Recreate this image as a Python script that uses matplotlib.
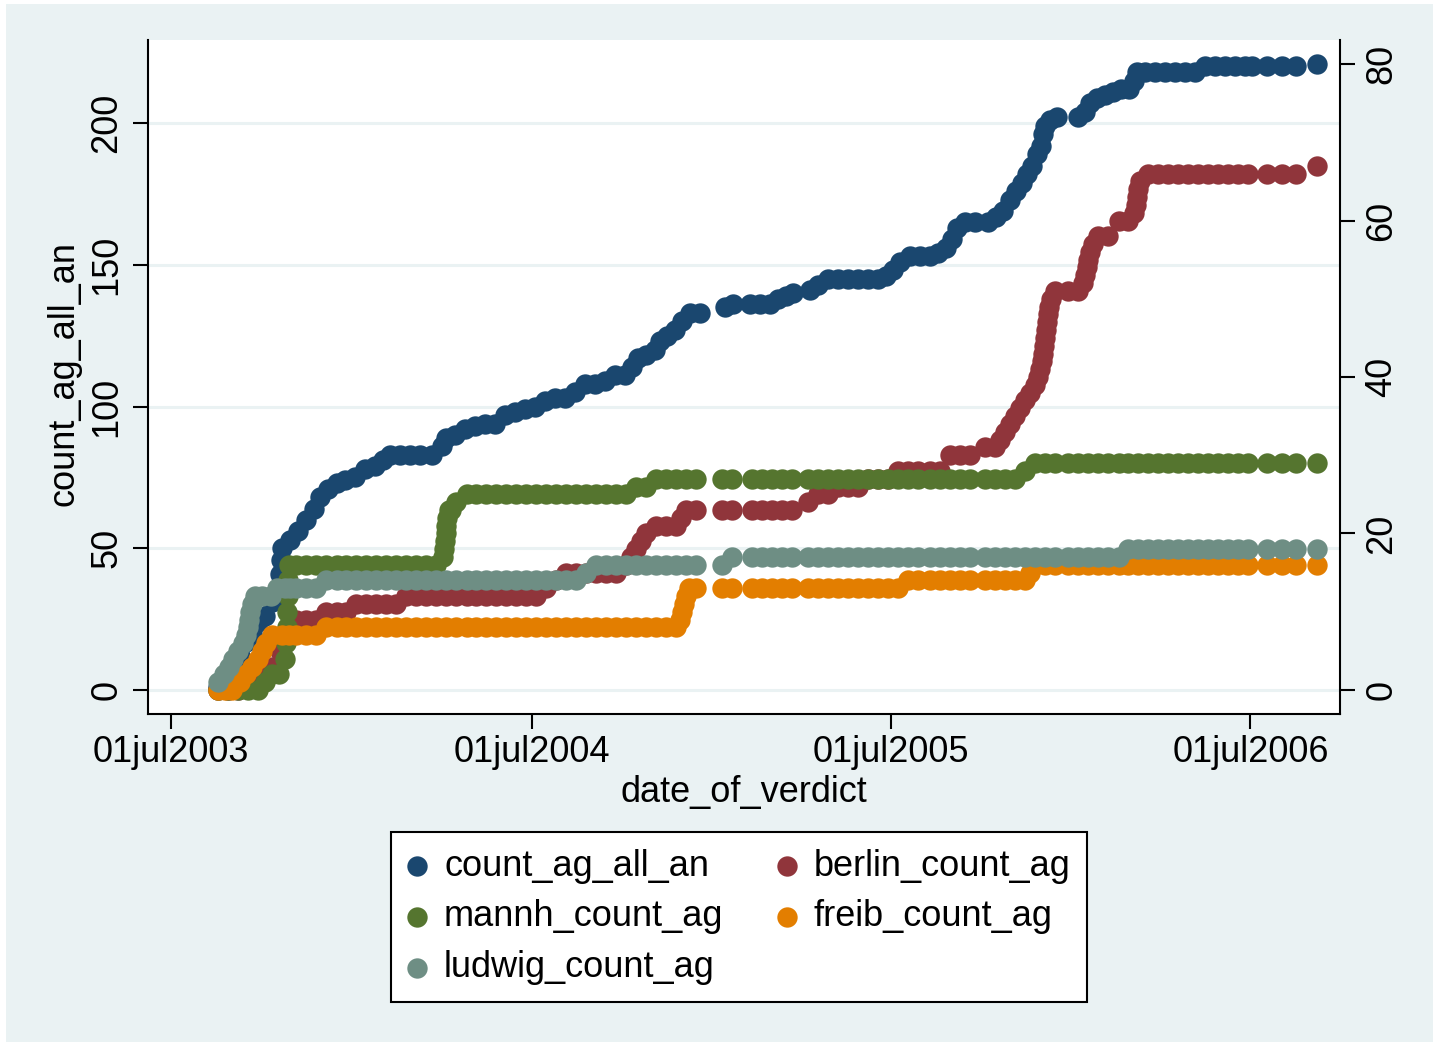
import matplotlib
matplotlib.use("Agg")
import matplotlib.dates as mdates
import matplotlib.pyplot as plt
import numpy as np
from matplotlib.patches import Rectangle

"""
Cumulative verdict counts by court (Stata s2color look).
count_ag_all_an sits on the left axis, the four courts on the right axis.
All days are counted from 01jul2003.
"""

START_DATE = '2003-07-01'

# count_ag_all_an - left axis
all_days = [48, 55, 62, 70, 76, 82, 88, 95, 103, 109,
            111, 112, 113, 121, 129, 137, 145, 151, 159, 168,
            177, 187, 197, 207, 215, 222, 232, 243, 253, 265,
            275, 279, 288, 298, 309, 319, 329, 339, 349, 359,
            370, 380, 390, 400, 410, 420, 430, 441, 451, 461,
            468, 474, 482, 491, 496, 504, 512, 519, 527, 537,
            562, 571, 588, 598, 608, 616, 624, 632, 649, 657,
            667, 677, 687, 698, 708, 718, 726, 733, 740, 750,
            760, 771, 779, 787, 793, 798, 806, 816, 829, 838,
            845, 852, 858, 864, 869, 874, 879, 883, 885, 887,
            892, 900, 921, 928, 933, 940, 948, 956, 965, 973,
            978, 981, 989, 999, 1009, 1019, 1030, 1040, 1050, 1060,
            1070, 1080, 1090, 1098, 1113, 1128, 1142, 1164]
all_vals = [1, 4, 8, 12, 17, 20, 24, 26, 31, 35,
            41, 46, 50, 53, 56, 60, 64, 68, 71, 73,
            74, 75, 78, 79, 81, 83, 83, 83, 83, 83,
            86, 89, 90, 92, 93, 94, 94, 97, 98, 99,
            100, 102, 103, 103, 105, 108, 108, 109, 111, 111,
            114, 117, 118, 120, 123, 125, 127, 130, 133, 133,
            135, 136, 136, 136, 136, 138, 139, 140, 141, 143,
            145, 145, 145, 145, 145, 145, 146, 148, 151, 153,
            153, 153, 154, 156, 159, 163, 165, 165, 165, 167,
            169, 173, 176, 179, 182, 185, 189, 192, 196, 199,
            201, 202, 202, 204, 207, 209, 210, 211, 212, 212,
            215, 218, 218, 218, 218, 218, 218, 218, 220, 220,
            220, 220, 220, 220, 220, 220, 220, 221]

# observation days shared by the court series on their flat runs
obs_mid = [127, 137, 147, 157, 168, 178, 188, 198, 208, 218,
           228, 239, 249, 259, 269, 279, 289, 300, 310, 320,
           330, 340, 350, 360, 371, 381, 391, 401, 411, 421,
           431, 442, 452, 462, 472, 482, 492, 503, 513, 523,
           533]
obs_late = [559, 570, 590, 600, 610, 620, 630, 647, 657, 667,
            677, 687, 698, 708, 718, 728, 738, 748, 758, 771,
            781, 791, 801, 811, 826, 837, 847, 857, 867, 877,
            887, 898, 911, 921, 931, 941, 951, 962, 972, 982,
            992, 1002, 1012, 1022, 1033, 1043, 1053, 1063, 1073, 1083,
            1093, 1113, 1128, 1142, 1164]

# berlin_count_ag - right axis
berlin_early_days = [48, 58, 68, 78, 86, 94, 103, 111, 116, 121]
berlin_early_vals = [0, 0, 0, 2, 3, 3, 3, 5, 7, 8]
berlin_mid = [9, 9, 9, 10, 10, 10, 11, 11, 11, 11,
              11, 12, 12, 12, 12, 12, 12, 12, 12, 12,
              12, 12, 12, 12, 12, 13, 14, 15, 15, 15,
              15, 15, 15, 16, 18, 20, 21, 21, 21, 23,
              23]
berlin_late = [23, 23, 23, 23, 23, 23, 23, 24, 25, 25,
               26, 26, 26, 27, 27, 27, 28, 28, 28, 28,
               28, 30, 30, 30, 31, 31, 33, 35, 37, 39,
               45, 51, 51, 51, 55, 58, 58, 60, 60, 64,
               66, 66, 66, 66, 66, 66, 66, 66, 66, 66,
               66, 66, 66, 66, 67]
berlin_jump_days = [467, 477, 518, 842, 852, 862, 872, 880, 882, 884,
                    885, 886, 888, 889, 890, 891, 893, 926, 928, 930,
                    933, 936, 978, 980, 981, 984]
berlin_jump_vals = [17, 19, 22, 32, 34, 36, 38, 40, 41, 42,
                    43, 44, 46, 47, 48, 49, 50, 52, 53, 54,
                    56, 57, 61, 62, 63, 65]

# mannh_count_ag - right axis
mannh_early_days = [48, 58, 68, 78, 88, 95, 103, 110, 116, 117, 118, 118, 119, 119, 120]
mannh_early_vals = [0, 0, 0, 0, 0, 1, 2, 2, 4, 6, 8, 10, 12, 14, 16]
mannh_mid = [16, 16, 16, 16, 16, 16, 16, 16, 16, 16,
             16, 16, 16, 16, 16, 20, 24, 25, 25, 25,
             25, 25, 25, 25, 25, 25, 25, 25, 25, 25,
             25, 25, 25, 25, 26, 26, 27, 27, 27, 27,
             27]
mannh_late = [27, 27, 27, 27, 27, 27, 27, 27, 27, 27,
              27, 27, 27, 27, 27, 27, 27, 27, 27, 27,
              27, 27, 27, 27, 27, 27, 27, 27, 28, 29,
              29, 29, 29, 29, 29, 29, 29, 29, 29, 29,
              29, 29, 29, 29, 29, 29, 29, 29, 29, 29,
              29, 29, 29, 29, 29]
mannh_jump_days = [276, 277, 278, 279, 280, 282, 284]
mannh_jump_vals = [17, 18, 19, 21, 22, 23, 23]

# freib_count_ag - right axis
freib_early_days = [48, 55, 62, 70, 76, 82, 88, 92, 96, 103, 113, 120]
freib_early_vals = [0, 0, 0, 1, 2, 3, 4, 5, 6, 7, 7, 7]
freib_mid = [7, 7, 7, 8, 8, 8, 8, 8, 8, 8,
             8, 8, 8, 8, 8, 8, 8, 8, 8, 8,
             8, 8, 8, 8, 8, 8, 8, 8, 8, 8,
             8, 8, 8, 8, 8, 8, 8, 8, 8, 12,
             13]
freib_late = [13, 13, 13, 13, 13, 13, 13, 13, 13, 13,
              13, 13, 13, 13, 13, 13, 13, 14, 14, 14,
              14, 14, 14, 14, 14, 14, 14, 14, 14, 16,
              16, 16, 16, 16, 16, 16, 16, 16, 16, 16,
              16, 16, 16, 16, 16, 16, 16, 16, 16, 16,
              16, 16, 16, 16, 16]
freib_jump_days = [517, 519, 521, 526, 872]
freib_jump_vals = [9, 10, 11, 13, 15]

# ludwig_count_ag - right axis
ludwig_early_days = [48, 54, 59, 63, 68, 73, 76, 78, 79, 80, 82, 85, 92, 101, 108, 116, 121]
ludwig_early_vals = [1, 2, 3, 4, 5, 6, 7, 8, 9, 10, 11, 12, 12, 12, 13, 13, 13]
ludwig_mid = [13, 13, 13, 14, 14, 14, 14, 14, 14, 14,
              14, 14, 14, 14, 14, 14, 14, 14, 14, 14,
              14, 14, 14, 14, 14, 14, 14, 14, 14, 15,
              16, 16, 16, 16, 16, 16, 16, 16, 16, 16,
              16]
ludwig_late = [16, 17, 17, 17, 17, 17, 17, 17, 17, 17,
               17, 17, 17, 17, 17, 17, 17, 17, 17, 17,
               17, 17, 17, 17, 17, 17, 17, 17, 17, 17,
               17, 17, 17, 17, 17, 17, 17, 17, 18, 18,
               18, 18, 18, 18, 18, 18, 18, 18, 18, 18,
               18, 18, 18, 18, 18]

# axis ticks
x_tick_dates = ['2003-07-01', '2004-07-01', '2005-07-01', '2006-07-01']
x_tick_labels = ['01jul2003', '01jul2004', '01jul2005', '01jul2006']
left_ticks = [0, 50, 100, 150, 200]
right_ticks = [0, 20, 40, 60, 80]

NAVY = '#1A476F'
MAROON = '#90353B'
FOREST = '#55752F'
DKORANGE = '#E37E00'
TEAL = '#6E8E84'
BLUISH_GRAY = '#EAF2F3'

FONT_SIZE = 26
MARKER_SIZE = 215


def court_series(early_days, early_vals, mid_vals, late_vals, jump_days=(), jump_vals=()):
    """
    Glue one court series together from its own early points, its values on the
    shared observation days and the extra points on its vertical jumps.
    :return: days, values as numpy arrays
    """
    assert len(early_days) == len(early_vals)
    assert len(mid_vals) == len(obs_mid)
    assert len(late_vals) == len(obs_late)
    assert len(jump_days) == len(jump_vals)
    days = np.concatenate([early_days, obs_mid, obs_late, jump_days]).astype(float)
    vals = np.concatenate([early_vals, mid_vals, late_vals, jump_vals]).astype(float)
    return days, vals


def main():
    plt.rcParams['font.family'] = ['Liberation Sans', 'DejaVu Sans']

    x0 = mdates.date2num(np.datetime64(START_DATE))

    fig = plt.figure(figsize=(14.39, 10.46), dpi=100)
    fig.patch.set_facecolor('white')
    # Stata graph region
    fig.patches.append(Rectangle((6 / 1439, 4 / 1046), 1427 / 1439, 1038 / 1046,
                                 transform=fig.transFigure, facecolor=BLUISH_GRAY,
                                 edgecolor='none', zorder=-10))

    ax = fig.add_axes([148 / 1439, 1 - 714 / 1046, 1192 / 1439, 674 / 1046])
    ax2 = ax.twinx()
    ax.set_facecolor('white')

    sc_all = ax.scatter(x0 + np.array(all_days, dtype=float), all_vals, s=MARKER_SIZE,
                        color=NAVY, linewidths=0, zorder=3)

    series = [
        (court_series(berlin_early_days, berlin_early_vals, berlin_mid, berlin_late,
                      berlin_jump_days, berlin_jump_vals), MAROON),
        (court_series(mannh_early_days, mannh_early_vals, mannh_mid, mannh_late,
                      mannh_jump_days, mannh_jump_vals), FOREST),
        (court_series(freib_early_days, freib_early_vals, freib_mid, freib_late,
                      freib_jump_days, freib_jump_vals), DKORANGE),
        (court_series(ludwig_early_days, ludwig_early_vals, ludwig_mid, ludwig_late), TEAL),
    ]
    handles = []
    for (days, vals), colour in series:
        handles.append(ax2.scatter(x0 + days, vals, s=MARKER_SIZE, color=colour,
                                   linewidths=0, zorder=3))
    sc_berlin, sc_mannh, sc_freib, sc_ludwig = handles

    # limits
    ax.set_xlim(x0 - 23.4, x0 + 1186.9)
    ax.set_ylim(-8.47, 229.3)
    ax2.set_ylim(-3.07, 83.07)

    ax.set_xticks(mdates.date2num(np.array(x_tick_dates, dtype='datetime64[D]')))
    ax.set_xticklabels(x_tick_labels)
    ax.set_yticks(left_ticks)
    ax.set_yticklabels([str(t) for t in left_ticks])
    ax2.set_yticks(right_ticks)
    ax2.set_yticklabels([str(t) for t in right_ticks])

    ax.grid(axis='y', color=BLUISH_GRAY, linewidth=2.2)
    ax.grid(axis='x', visible=False)
    ax.set_axisbelow(True)

    ax.tick_params(axis='x', direction='out', length=11, width=1.5, pad=4, labelsize=FONT_SIZE)
    ax.tick_params(axis='y', direction='out', length=11, width=1.5, pad=6, labelsize=FONT_SIZE)
    ax2.tick_params(axis='y', direction='out', length=11, width=1.5, pad=6.5, labelsize=FONT_SIZE)
    for lab in ax.get_yticklabels() + ax2.get_yticklabels():
        lab.set_rotation(90)
        lab.set_va('center')

    for side in ['top', 'right']:
        ax.spines[side].set_visible(False)
    for side in ['top', 'left', 'bottom']:
        ax2.spines[side].set_visible(False)
    for sp in [ax.spines['left'], ax.spines['bottom'], ax2.spines['right']]:
        sp.set_linewidth(1.5)
        sp.set_color('black')

    ax.set_ylabel('count_ag_all_an', fontsize=FONT_SIZE)
    ax.yaxis.set_label_coords(-0.0562, 0.505)
    ax.set_xlabel('date_of_verdict', fontsize=FONT_SIZE)
    ax.xaxis.set_label_coords(0.5, -0.0905)

    # legend goes row by row in Stata, so column one is all / mannh / ludwig
    leg = fig.legend(handles=[sc_all, sc_mannh, sc_ludwig, sc_berlin, sc_freib],
                     labels=['count_ag_all_an', 'mannh_count_ag', 'ludwig_count_ag',
                             'berlin_count_ag', 'freib_count_ag'],
                     ncol=2, loc='upper left', bbox_to_anchor=(391 / 1439, 1 - 832 / 1046),
                     bbox_transform=fig.transFigure, borderaxespad=0, fontsize=FONT_SIZE,
                     frameon=True, fancybox=False, framealpha=1, facecolor='white',
                     edgecolor='black', borderpad=0.47, labelspacing=0.43,
                     handlelength=0.5, handletextpad=0.5, columnspacing=1.5,
                     scatterpoints=1)
    leg.get_frame().set_linewidth(1.5)

    fig.savefig('out.png', dpi=100, facecolor=fig.get_facecolor())


if __name__ == "__main__":
    main()
